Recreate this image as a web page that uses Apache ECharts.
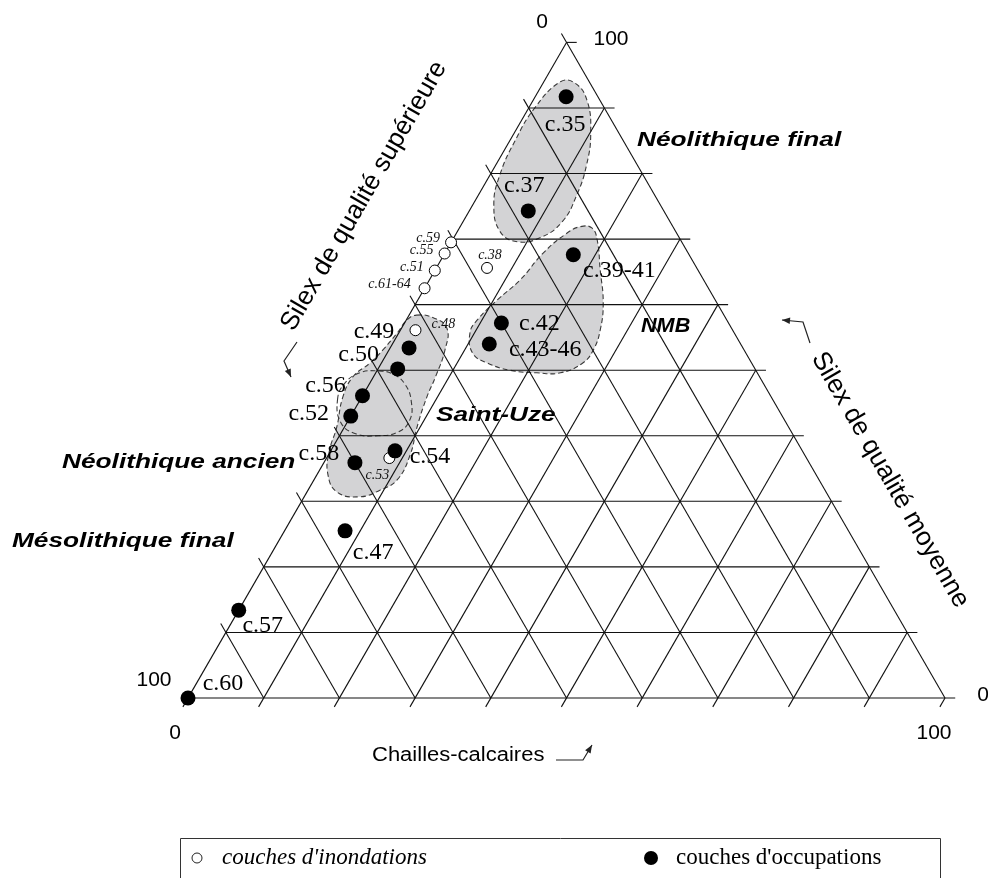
<!DOCTYPE html>
<html><head><meta charset="utf-8">
<script src="https://cdn.jsdelivr.net/npm/echarts@6/dist/echarts.min.js"></script>
<style>html,body{margin:0;padding:0;background:#fff}#main{width:988px;height:878px}</style>
</head><body><div id="main"></div>
<script>
// ---------- DATA (ternary compositions, %) ----------
// couches d'occupations (filled)
const occNames      = ['c.35','c.37','c.39-41','c.42','c.43-46','c.49','c.50','c.56','c.52','c.58','c.54','c.47','c.57','c.60'];
const occSuperieure = [4.2, 17.9, 15.3, 30.0, 33.2, 44.1, 47.2, 53.9, 57.0, 60.0, 53.8, 66.5, 86.6, 100];
const occMoyenne    = [91.7, 74.3, 67.6, 57.2, 54.0, 53.4, 50.2, 46.1, 43.0, 35.9, 37.7, 25.5, 13.4, 0];
const occChailles   = [4.1, 7.8, 17.1, 12.8, 12.8, 2.5, 2.6, 0, 0, 4.1, 8.5, 8.0, 0, 0];

// couches d'inondations (open)
const inoNames      = ['c.59','c.55','c.51','c.61-64','c.38','c.48','c.53'];
const inoSuperieure = [30.5, 32.2, 34.8, 37.5, 27.7, 41.9, 55.1];
const inoMoyenne    = [69.5, 67.8, 65.2, 62.5, 65.6, 56.1, 36.6];
const inoChailles   = [0, 0, 0, 0, 6.7, 2.0, 8.3];

// axis ticks (%)
const ticks = [0,10,20,30,40,50,60,70,80,90,100];
const axisNames = ['Silex de qualité supérieure','Silex de qualité moyenne','Chailles-calcaires'];
const legendNames = ["couches d'inondations", "couches d'occupations"];

// group envelopes: [moyenne, chailles]
const envNeoFinal = [[94,2.2],[93.8,4.2],[91.2,7.1],[86.2,10.1],[81.3,12],[76.7,13],[72.6,13.1],[70.2,11.4],[69.6,8.7],[71.1,5.7],[75.2,2.8],[79.8,1.3],[85.1,0.7],[90,0.8]];
const envNMB = [[71.9,15.9],[71.7,17.5],[69.9,19.1],[65.3,21.8],[60.3,24.7],[56.1,26.4],[53.1,27],[51.1,26.6],[49.6,24.4],[49.6,21.3],[50,17.5],[51.1,14],[52.6,11.3],[55.7,9.4],[57.7,9.4],[60.7,10.5],[63.8,12],[67.9,13],[70.9,14.6]];
const envAncien = [[58.4,1.0],[58,3.4],[56.4,6],[53.1,7.4],[49,8.2],[45.9,8.6],[41.3,9.6],[37.1,10.8],[33.3,11],[31.7,9.5],[30.7,7.4],[31.4,4],[34.3,1.3],[37.8,-0.2],[41.3,-1],[45.9,-2.5],[49,-2.7],[51.1,-1.5],[53.1,-0.8],[55.7,-0.2],[57.7,0.1]];
const envSaintUze = [[45.5,-3],[48,-3.3],[49.6,-2.1],[49.9,0],[49.4,2.4],[47.8,4.8],[45.2,6.9],[42.4,8.1],[40.6,7.5],[40,5.1],[40.3,2],[42,-0.8]];

// ---------- helpers ----------
const SQ = Math.sqrt(3)/2;
function toXY(moy, ch){ return [ch + moy/2, moy*SQ]; }

const labelOffsets = {
  'c.35':[-1,28],'c.37':[-4,-25],'c.39-41':[46,16],'c.42':[38,1],'c.43-46':[56,6],
  'c.49':[-35,-16],'c.50':[-39,-14],'c.56':[-37,-10],'c.52':[-42,-2],'c.58':[-36,-9],
  'c.54':[35,6],'c.47':[28,22],'c.57':[24,16],'c.60':[35,-14],
  'c.59':[-23,-4],'c.55':[-23,-3],'c.51':[-23,-3],'c.61-64':[-35,-4],'c.38':[3,-13],'c.48':[28,-6],'c.53':[-12,17]
};

// grid segments built from ticks
const TL = 1.35;
const gridSegs = [];
ticks.forEach(t => {
  gridSegs.push([t/2, t*SQ, 100 - t/2 + TL, t*SQ]);
  const b = toXY(0, t), r = toXY(100 - t, t);
  gridSegs.push([b[0] - TL/2, b[1] - TL*SQ, r[0], r[1]]);
  if (t < 100) {
    const l = toXY(100 - t, 0), bb = toXY(0, 100 - t);
    gridSegs.push([l[0] - TL/2, l[1] + TL*SQ, bb[0], bb[1]]);
  }
});

const envelopes = [
  {pts: envNeoFinal, fill: true},
  {pts: envNMB, fill: true},
  {pts: envAncien, fill: true},
  {pts: envSaintUze, fill: false}
];

function pts(names, moy, ch){
  return names.map((n,i)=>({name:n, value: toXY(moy[i], ch[i]), label:{offset: labelOffsets[n]}}));
}

function arrowHead(p, q, s){
  const dx=q[0]-p[0], dy=q[1]-p[1], len=Math.hypot(dx,dy), ux=dx/len, uy=dy/len;
  const bx=q[0]-ux*s, by=q[1]-uy*s, nx=-uy*s*0.4, ny=ux*s*0.4;
  return [[q[0],q[1]],[bx+nx,by+ny],[bx-nx,by-ny]];
}
function arrow(points){
  const n = points.length;
  return [
    {type:'polyline', shape:{points:points}, style:{stroke:'#222', lineWidth:1.2, fill:null}},
    {type:'polygon', shape:{points:arrowHead(points[n-2], points[n-1], 8)}, style:{fill:'#222'}}
  ];
}

const sans = 'Liberation Sans, Arial, sans-serif';
const serif = 'Liberation Serif, Times New Roman, serif';
function txt(text, x, y, opts){
  return Object.assign({type:'text', x:x, y:y, style:Object.assign({text:text, fill:'#000', fontFamily:sans, fontSize:21, textAlign:'left', textVerticalAlign:'middle'}, opts.style||{})}, opts.el||{});
}
function groupLbl(text, x, y, sx){
  return txt(text, x, y, {style:{fontSize:21, fontWeight:'bold', fontStyle:'italic'}, el:{scaleX:sx||1.25}});
}

const chart = echarts.init(document.getElementById('main'));
chart.setOption({
  animation:false,
  grid:{left:188, top:42.4, width:757, height:655.6},
  xAxis:{type:'value', min:0, max:100, show:false},
  yAxis:{type:'value', min:0, max:100*SQ, show:false},
  series:[
    {
      type:'custom', z:1, clip:false, silent:true,
      data: envelopes.map((e,i)=>[i]),
      encode:{x:0, y:0},
      renderItem:(params, api)=>{
        const e = envelopes[params.dataIndex];
        const p = e.pts.map(q => api.coord(toXY(q[0], q[1])));
        return {type:'polygon', shape:{points:p, smooth:0.45},
          style:{fill: e.fill ? '#d3d3d5' : 'none', stroke:'#3a3a3a', lineWidth:1.1, lineDash:[5,3]}};
      }
    },
    {
      type:'custom', z:2, clip:false, silent:true,
      dimensions:['x1','y1','x2','y2'],
      encode:{x:[0,2], y:[1,3]},
      data: gridSegs,
      renderItem:(params, api)=>{
        const a = api.coord([api.value(0), api.value(1)]);
        const b = api.coord([api.value(2), api.value(3)]);
        return {type:'line', shape:{x1:a[0],y1:a[1],x2:b[0],y2:b[1]}, style:{stroke:'#111', lineWidth:1.1}};
      }
    },
    {
      name: legendNames[0], type:'scatter', z:3, clip:false,
      symbol:'circle', symbolSize:11,
      itemStyle:{color:'#fff', borderColor:'#000', borderWidth:1, opacity:1},
      label:{show:true, position:'inside', formatter:'{b}', color:'#111', fontFamily:serif, fontStyle:'italic', fontSize:14, textBorderWidth:0},
      data: pts(inoNames, inoMoyenne, inoChailles)
    },
    {
      name: legendNames[1], type:'scatter', z:4, clip:false,
      symbol:'circle', symbolSize:15,
      itemStyle:{color:'#000', opacity:1},
      label:{show:true, position:'inside', formatter:'{b}', color:'#000', fontFamily:serif, fontSize:24, textBorderWidth:0},
      data: pts(occNames, occMoyenne, occChailles)
    }
  ],
  graphic:[
    txt('0', 542, 22, {style:{textAlign:'center'}}),
    txt('100', 611, 39, {style:{textAlign:'center'}}),
    txt('100', 154, 680, {style:{textAlign:'center'}}),
    txt('0', 175, 733, {style:{textAlign:'center'}}),
    txt('100', 934, 733, {style:{textAlign:'center'}}),
    txt('0', 983, 695, {style:{textAlign:'center'}}),
    txt(axisNames[0], 364, 196, {style:{textAlign:'center', fontSize:26}, el:{rotation:Math.PI/3}}),
    txt(axisNames[1], 890, 480, {style:{textAlign:'center', fontSize:26}, el:{rotation:-Math.PI/3}}),
    txt(axisNames[2], 372, 755, {style:{fontSize:20}, el:{scaleX:1.1}}),
    ...arrow([[297,342],[284,361],[291,377]]),
    ...arrow([[810,343],[803,322],[782,320]]),
    ...arrow([[556,760],[583,760],[592,745]]),
    groupLbl('Néolithique final', 637, 140),
    groupLbl('NMB', 641, 326, 1.03),
    groupLbl('Saint-Uze', 436, 415),
    groupLbl('Néolithique ancien', 62, 462),
    groupLbl('Mésolithique final', 12, 541),
    {type:'rect', shape:{x:180.5, y:838.5, width:760, height:60}, style:{fill:'none', stroke:'#333', lineWidth:1}},
    {type:'circle', shape:{cx:197, cy:858, r:5}, style:{fill:'#fff', stroke:'#222', lineWidth:1}},
    txt(legendNames[0], 222, 858, {style:{fontFamily:serif, fontStyle:'italic', fontSize:23}}),
    {type:'circle', shape:{cx:651, cy:858, r:7}, style:{fill:'#000'}},
    txt(legendNames[1], 676, 858, {style:{fontFamily:serif, fontSize:23}})
  ]
});
</script>
</body></html>
